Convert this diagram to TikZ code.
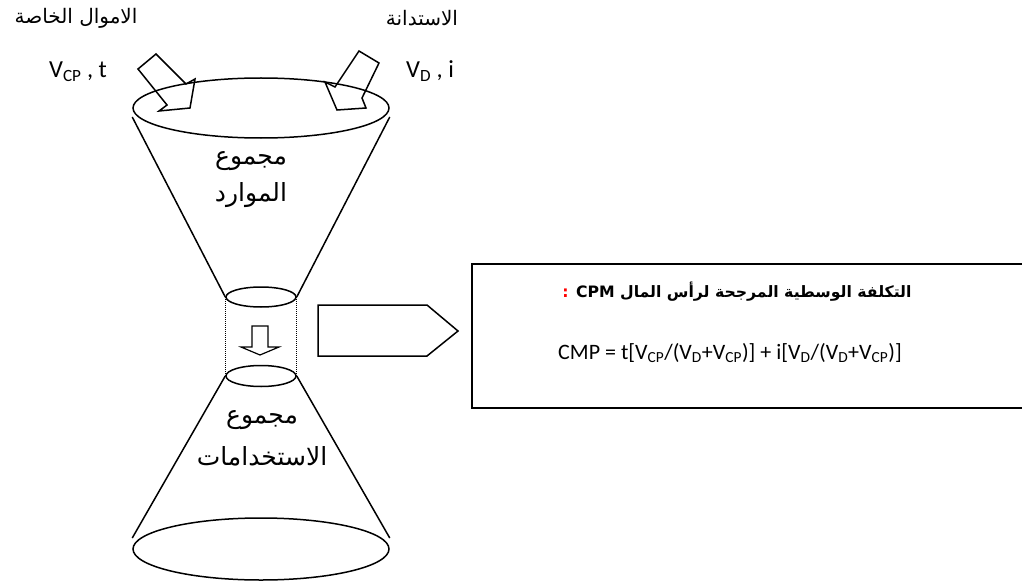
\documentclass[tikz,border=0pt]{standalone}
\usepackage{fontspec}
\usepackage{xcolor}
\usetikzlibrary{shapes.geometric}
\setmainfont{Carlito}
\newfontfamily\arabicfont[Script=Arabic]{DejaVu Sans}
\TeXXeTstate=1

\begin{document}
\begin{tikzpicture}[x=1pt,y=-1pt,
  rim/.style={draw, ellipse, inner sep=0pt, line width=1.5pt},
  cone/.style={line width=1.5pt},
  blockarrow/.style={draw, line width=1.5pt, line join=miter},
  guide/.style={dash pattern=on 1pt off 1pt, line width=1pt},
  arsmall/.style={font=\arabicfont\fontsize{20}{24}\selectfont, inner sep=0pt},
  arbig/.style={font=\arabicfont\fontsize{25}{30}\selectfont, inner sep=0pt},
  lat/.style={font=\fontsize{24.5}{28}\selectfont, inner sep=0pt},
  formula/.style={font=\fontsize{22}{26}\selectfont, inner sep=0pt}]
\useasboundingbox (0,0) rectangle (1022,583);

% funnel rims
\node[rim, minimum width=256pt, minimum height=60pt] (top) at (261,108) {};
\node[rim, minimum width=70pt, minimum height=20pt] (neckA) at (261,297) {};
\node[rim, minimum width=70pt, minimum height=21pt] (neckB) at (261,376) {};
\node[rim, minimum width=256pt, minimum height=62pt] (base) at (261,549) {};

% upper cone
\draw[cone] ([yshift=-9pt]top.west) -- (neckA.west);
\draw[cone] ([yshift=-9pt]top.east) -- (neckA.east);
% dotted neck
\draw[guide] (neckA.west) -- (neckB.west);
\draw[guide] (neckA.east) -- (neckB.east);
% lower cone
\draw[cone] (neckB.west) -- ([yshift=11pt]base.west);
\draw[cone] (neckB.east) -- ([yshift=11pt]base.east);

% inflow arrows
\draw[blockarrow] (138,69) -- (156,54) -- (186,84) -- (195,79) -- (190,108)
  -- (159,111) -- (167,105) -- cycle;
\draw[blockarrow] (359,51) -- (379,63) -- (362,98) -- (366,108) -- (337,110)
  -- (325,82) -- (335,87) -- cycle;

% downward arrow in the neck
\draw[blockarrow, line width=1.2pt] (252,326) -- (268,326) -- (268,347) -- (279,347)
  -- (260,355) -- (241,347) -- (252,347) -- cycle;

% pentagon arrow towards the box
\draw[blockarrow] (318,305) -- (427,305) -- (458,331) -- (427,356) -- (318,356) -- cycle;

% formula box
\node[draw, line width=2pt, minimum width=560pt, minimum height=144pt, anchor=north west,
  inner sep=0pt] (box) at (471,263) {};

% labels
\node[arsmall] (own) at (76,18) {\beginR الاموال الخاصة\endR};
\node[arsmall] (debt) at (422,18) {\beginR الاستدانة\endR};
\node[lat] (vcp) at (78,72) {V\textsubscript{CP} , t};
\node[lat] (vd) at (430,71) {V\textsubscript{D} , i};

\node[arbig] (sum1) at (251,161) {\beginR مجموع\endR};
\node[arbig] (res) at (251,195) {\beginR الموارد\endR};
\node[arbig] (sum2) at (262,420) {\beginR مجموع\endR};
\node[arbig] (uses) at (262,456) {\beginR الاستخدامات\endR};

\node[font=\arabicfont\bfseries\fontsize{15.7}{19}\selectfont, inner sep=0pt] (title) at (737,292)
  {\textcolor{red}{:} {\bfseries CPM} \beginR التكلفة الوسطية المرجحة لرأس المال\endR};
\node[formula] (cmp) at (730,353)
  {CMP = t[V\textsubscript{CP}/(V\textsubscript{D}+V\textsubscript{CP})] + i[V\textsubscript{D}/(V\textsubscript{D}+V\textsubscript{CP})]};
\end{tikzpicture}
\end{document}
